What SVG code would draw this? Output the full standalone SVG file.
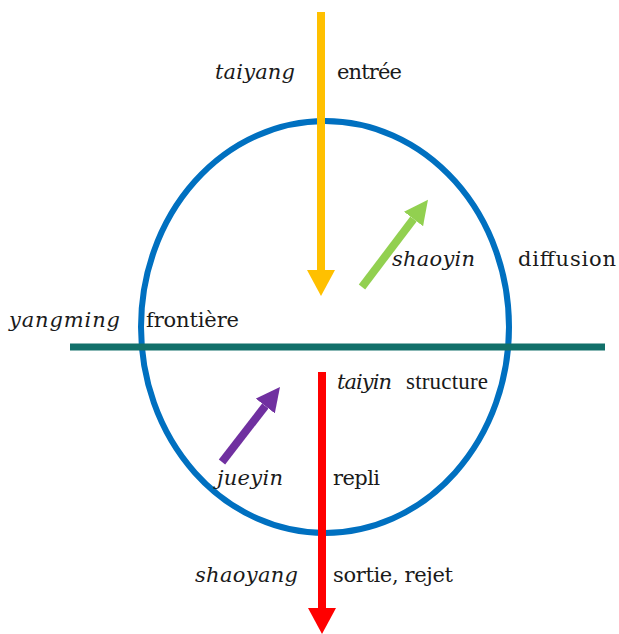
<svg xmlns="http://www.w3.org/2000/svg" width="619" height="634" viewBox="0 0 619 634">
<style>
text{font-family:"DejaVu Serif","Liberation Serif",serif;font-size:21px;fill:#1a1a1a}
.it{font-style:italic}
.sm{font-family:"Liberation Serif",serif;font-size:23px}
.shaft{stroke-width:8;fill:none}
</style>
<defs>
<marker id="hy" markerUnits="userSpaceOnUse" markerWidth="26" markerHeight="28" refX="0" refY="14" orient="auto"><path d="M0,0 L26,14 L0,28 z" fill="#FFC000"/></marker>
<marker id="hr" markerUnits="userSpaceOnUse" markerWidth="26" markerHeight="28" refX="0" refY="14" orient="auto"><path d="M0,0 L26,14 L0,28 z" fill="#FF0000"/></marker>
<marker id="hg" markerUnits="userSpaceOnUse" markerWidth="24" markerHeight="24" refX="0" refY="12" orient="auto"><path d="M0,0 L24,12 L0,24 z" fill="#92D050"/></marker>
<marker id="hp" markerUnits="userSpaceOnUse" markerWidth="24" markerHeight="24" refX="0" refY="12" orient="auto"><path d="M0,0 L24,12 L0,24 z" fill="#7030A0"/></marker>
</defs>
<rect width="619" height="634" fill="#ffffff"/>
<g id="circle"><ellipse cx="325" cy="327" rx="184" ry="206" fill="none" stroke="#0070C0" stroke-width="6"/></g>
<g id="connectors">
<line id="horizon" x1="70" y1="347" x2="605" y2="347" stroke="#12706A" stroke-width="7"/>
<line class="shaft" x1="321" y1="12" x2="321" y2="270" stroke="#FFC000" marker-end="url(#hy)"/>
<line class="shaft" x1="322" y1="372" x2="322" y2="608" stroke="#FF0000" marker-end="url(#hr)"/>
<line class="shaft" x1="362" y1="287" x2="413.5" y2="219" stroke="#92D050" stroke-width="7" marker-end="url(#hg)"/>
<line class="shaft" x1="222" y1="462" x2="265.3" y2="406" stroke="#7030A0" stroke-width="7" marker-end="url(#hp)"/>
</g>
<g id="taiyang"><text class="it" x="215" y="79" textLength="80">taiyang</text><text x="337" y="79" textLength="65">entrée</text></g>
<g id="shaoyin"><text class="it" x="392" y="266" textLength="83">shaoyin</text><text x="518" y="266" textLength="98">diffusion</text></g>
<g id="yangming"><text class="it" x="9" y="327" textLength="111">yangming</text><text x="146" y="327" textLength="93">frontière</text></g>
<g id="taiyin"><text class="it" x="337" y="389" textLength="55">taiyin</text><text class="sm" x="406" y="389" textLength="82">structure</text></g>
<g id="jueyin"><text class="it" x="217" y="485" textLength="66">jueyin</text><text x="333" y="485" textLength="47">repli</text></g>
<g id="shaoyang"><text class="it" x="195" y="582" textLength="103">shaoyang</text><text x="333" y="582" textLength="120">sortie, rejet</text></g>
</svg>
